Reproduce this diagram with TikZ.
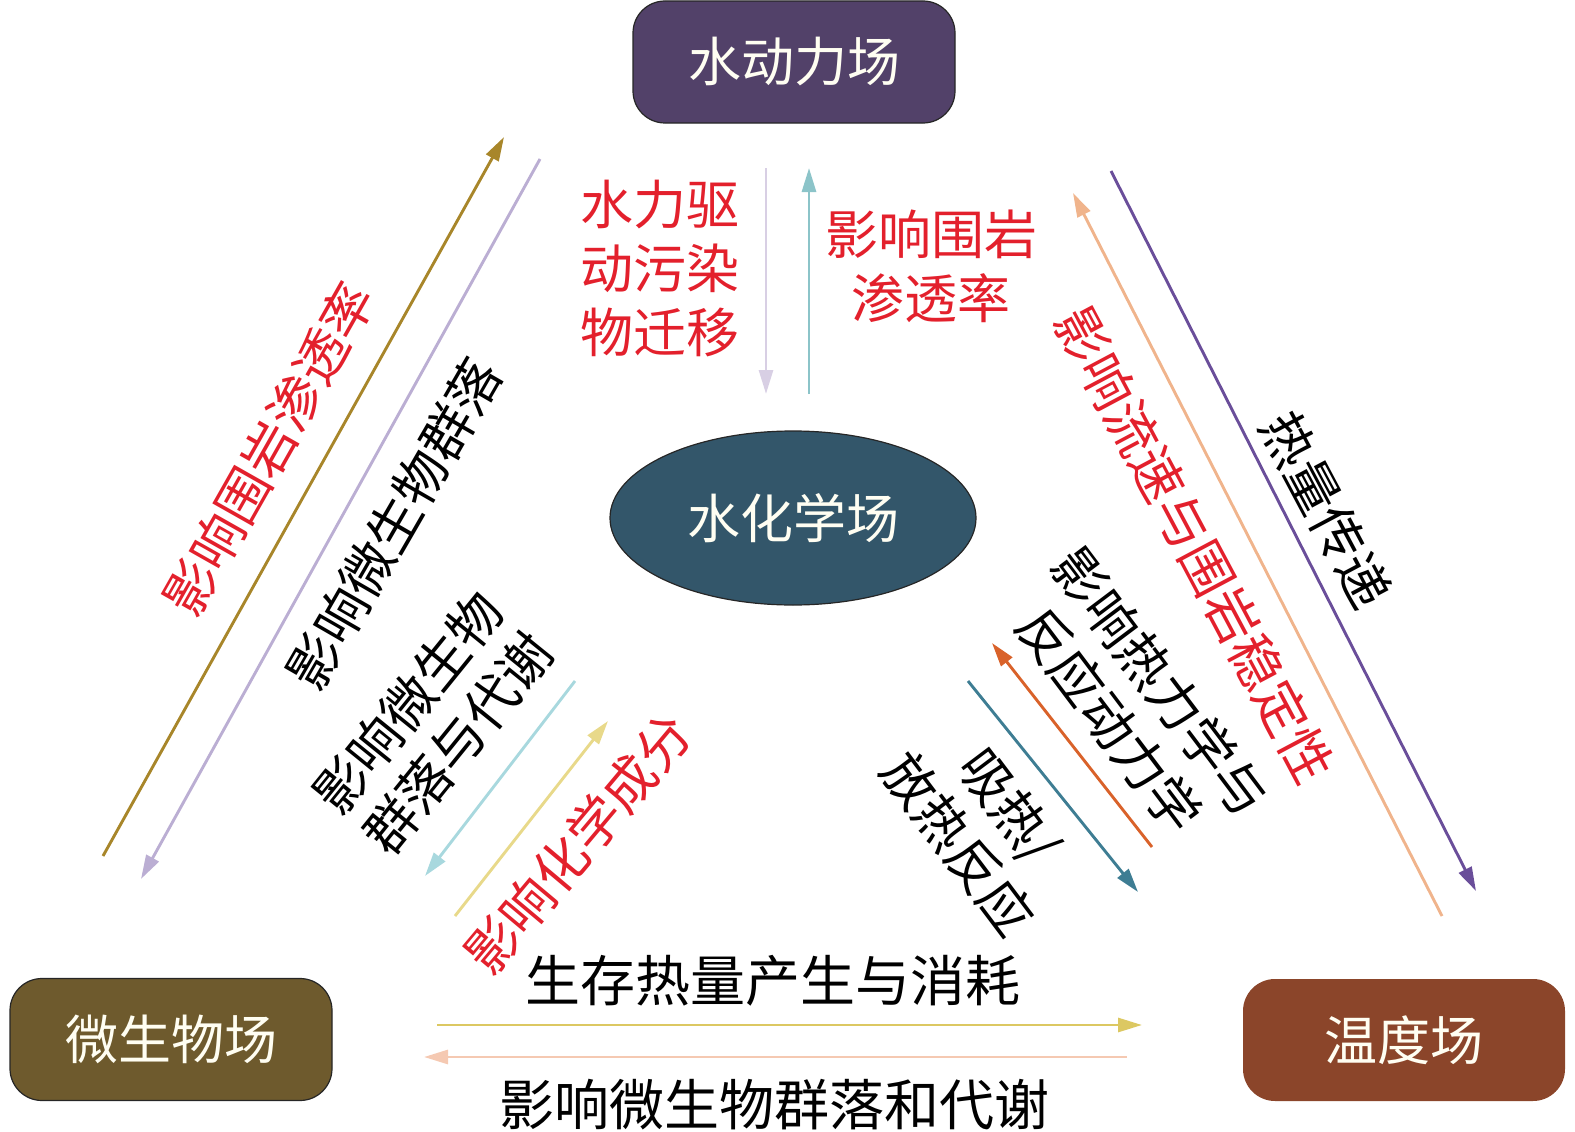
\documentclass[tikz,border=0pt]{standalone}
\usepackage{fontspec}
\newfontfamily\cjk{Noto Sans CJK SC}
\usetikzlibrary{arrows.meta,shapes.geometric}
\definecolor{hydro}{HTML}{524169}
\definecolor{chem}{HTML}{33566A}
\definecolor{micro}{HTML}{6E5A2D}
\definecolor{temp}{HTML}{8B452A}
\definecolor{redtxt}{HTML}{E3202C}
\definecolor{cgold}{HTML}{A8862A}
\definecolor{clav}{HTML}{BBAED3}
\definecolor{clavlt}{HTML}{D8CFE4}
\definecolor{cteal}{HTML}{8CC4C9}
\definecolor{clblue}{HTML}{A8D8DE}
\definecolor{cyel}{HTML}{E8D98A}
\definecolor{cyelh}{HTML}{DCC862}
\definecolor{cpeach}{HTML}{F0B48C}
\definecolor{cpeachh}{HTML}{F5C9B2}
\definecolor{cpurp}{HTML}{6A4E9A}
\definecolor{corng}{HTML}{D9622A}
\definecolor{cdteal}{HTML}{3E7D93}
\begin{document}
\begin{tikzpicture}[x=1pt,y=-1pt,
  fieldbox/.style={rounded corners=32pt, minimum width=322pt, minimum height=122pt,
    draw=black!85, line width=1.2pt, text=white!95!yellow,
    font=\cjk\fontsize{53}{60}\selectfont, inner sep=0pt},
  lbl/.style={font=\cjk\fontsize{53}{64}\selectfont, align=center, inner sep=0pt},
  redl/.style={lbl, text=redtxt},
  blkl/.style={lbl, text=black},
  widel/.style={blkl, font=\cjk\fontsize{55}{64}\selectfont},
  conn/.style={line width=2.9pt, -{Triangle[length=24pt,width=14pt]}}
]
\useasboundingbox (0,0) rectangle (1575,1132);

% field nodes
\node[fieldbox, fill=hydro] (hydro) at (794,62) {水动力场};
\node[fieldbox, fill=micro] (micro) at (171,1039.5) {微生物场};
\node[fieldbox, fill=temp, draw=none] (temp) at (1404,1040) {温度场};
\node[ellipse, draw=black!85, line width=1.2pt, fill=chem, minimum width=366pt,
  minimum height=174pt, inner sep=0pt, text=white!95!yellow,
  font=\cjk\fontsize{53}{60}\selectfont] (chem) at (793,518) {水化学场};

% arrow end coordinates
\coordinate (g1) at (103,856);   \coordinate (g2) at (504,137);
\coordinate (l1) at (540,159);   \coordinate (l2) at (141,879);
\coordinate (b1) at (575,681);   \coordinate (b2) at (425,876);
\coordinate (y1) at (455,916);   \coordinate (y2) at (608,721);
\coordinate (v1) at (766,168);   \coordinate (v2) at (766,394);
\coordinate (t1) at (809,394);   \coordinate (t2) at (809,168);
\coordinate (p1) at (1442,916);  \coordinate (p2) at (1073,193);
\coordinate (u1) at (1111,171);  \coordinate (u2) at (1476,891);
\coordinate (o1) at (1152,847);  \coordinate (o2) at (992,643);
\coordinate (d1) at (968,681);   \coordinate (d2) at (1138,892);
\coordinate (h1) at (437,1025);  \coordinate (h2) at (1142,1025);
\coordinate (k1) at (1127,1057); \coordinate (k2) at (424,1057);

% connectors
\draw[conn, cgold] (g1) -- (g2);
\draw[conn, clav] (l1) -- (l2);
\draw[conn, clblue] (b1) -- (b2);
\draw[conn, cyel] (y1) -- (y2);
\draw[conn, clavlt] (v1) -- (v2);
\draw[conn, cteal] (t1) -- (t2);
\draw[conn, cpeach] (p1) -- (p2);
\draw[conn, cpurp] (u1) -- (u2);
\draw[conn, corng] (o1) -- (o2);
\draw[conn, cdteal] (d1) -- (d2);
\draw[conn, cyelh] (h1) -- (h2);
\draw[conn, cpeachh] (k1) -- (k2);

% labels
\node[redl] (tA) at (660,269) {水力驱\\动污染\\物迁移};
\node[redl] (tB) at (931,266) {影响围岩\\渗透率};
\node[redl, rotate=60.5] (tC) at (269,449) {影响围岩渗透率};
\node[blkl, rotate=60] (tD) at (394,524) {影响微生物群落};
\node[blkl, rotate=51] (tE) at (433,723) {影响微生物\\群落与代谢};
\node[redl, rotate=50] (tF) at (578,844) {影响化学成分};
\node[redl, rotate=-62] (tG) at (1195,545) {影响流速与围岩稳定性};
\node[blkl, rotate=-62] (tH) at (1326,510) {热量传递};
\node[blkl, rotate=-53] (tI) at (1135,701) {影响热力学与\\反应动力学};
\node[blkl, rotate=-53] (tJ) at (984,825) {吸热/\\放热反应};
\node[widel] (tK) at (773,981) {生存热量产生与消耗};
\node[widel] (tL) at (774,1105) {影响微生物群落和代谢};
\end{tikzpicture}
\end{document}
